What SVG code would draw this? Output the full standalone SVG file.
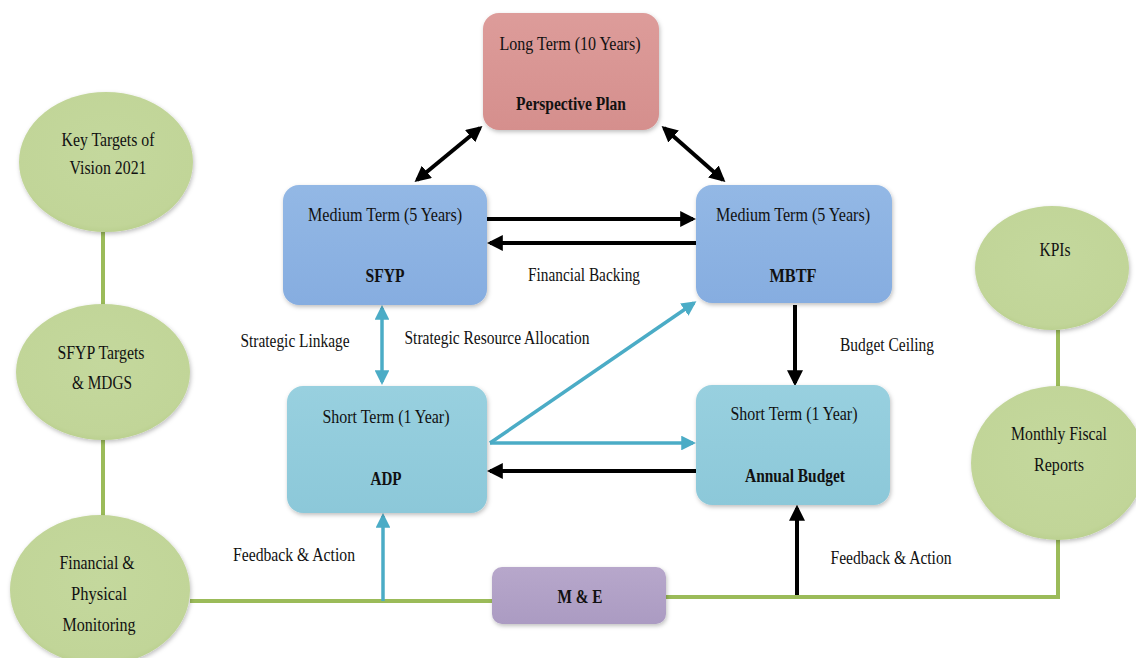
<svg xmlns="http://www.w3.org/2000/svg" width="1136" height="658" viewBox="0 0 1136 658">
<defs>
<style>
text{font-family:"Liberation Serif","Times New Roman",serif;font-size:19px;fill:#111;text-anchor:middle}
.b{font-weight:bold}
.box{stroke:none}
.pink{fill:url(#gPink)}
.blue{fill:url(#gBlue)}
.cyan{fill:url(#gCyan)}
.purple{fill:url(#gPurple)}
.ell{fill:url(#gGreen)}
.gl{stroke:#9bbb59;stroke-width:4;fill:none}
.k{stroke:#000;stroke-width:4;fill:none}
.c{stroke:#4bacc6;stroke-width:3.5;fill:none}
</style>
<linearGradient id="gPink" x1="0" y1="0" x2="0" y2="1"><stop offset="0" stop-color="#dd9c9a"/><stop offset="1" stop-color="#d58f8d"/></linearGradient>
<linearGradient id="gBlue" x1="0" y1="0" x2="0" y2="1"><stop offset="0" stop-color="#93b8e5"/><stop offset="1" stop-color="#86ade0"/></linearGradient>
<linearGradient id="gCyan" x1="0" y1="0" x2="0" y2="1"><stop offset="0" stop-color="#98d0df"/><stop offset="1" stop-color="#8cc8d9"/></linearGradient>
<linearGradient id="gPurple" x1="0" y1="0" x2="0" y2="1"><stop offset="0" stop-color="#b7a7cb"/><stop offset="1" stop-color="#ab9bc2"/></linearGradient>
<radialGradient id="gGreen" cx="0.5" cy="0.45" r="0.6"><stop offset="0" stop-color="#c4d89d"/><stop offset="0.85" stop-color="#c1d598"/><stop offset="1" stop-color="#b3ca86"/></radialGradient>
<filter id="sh" x="-10%" y="-10%" width="120%" height="130%"><feDropShadow dx="1" dy="2" stdDeviation="2" flood-color="#000" flood-opacity="0.25"/></filter>
<marker id="ak" viewBox="0 0 10 10" refX="8" refY="5" markerWidth="4" markerHeight="4" orient="auto-start-reverse"><path d="M0,0 L10,5 L0,10 Z" fill="#000"/></marker>
<marker id="ac" viewBox="0 0 10 10" refX="8" refY="5" markerWidth="4.2" markerHeight="4.2" orient="auto-start-reverse"><path d="M0,0 L10,5 L0,10 Z" fill="#4bacc6"/></marker>
</defs>
<rect width="1136" height="658" fill="#fff"/>

<g id="connectors">
<line class="gl" x1="103" y1="232" x2="103" y2="305"/>
<line class="gl" x1="103" y1="440" x2="103" y2="516"/>
<line class="gl" x1="1058" y1="330" x2="1058" y2="390"/>
<polyline class="gl" points="190,601 492,601"/>
<polyline class="gl" points="666,597 1058,597 1058,538"/>
<line class="k" x1="480" y1="128" x2="417" y2="180" marker-start="url(#ak)" marker-end="url(#ak)"/>
<line class="k" x1="664" y1="128" x2="723" y2="180" marker-start="url(#ak)" marker-end="url(#ak)"/>
<line class="k" x1="487" y1="219" x2="693" y2="219" marker-end="url(#ak)"/>
<line class="k" x1="696" y1="243" x2="490" y2="243" marker-end="url(#ak)"/>
<line class="k" x1="795" y1="305" x2="795" y2="383" marker-end="url(#ak)"/>
<line class="k" x1="696" y1="471" x2="490" y2="471" marker-end="url(#ak)"/>
<line class="c" x1="382" y1="308" x2="382" y2="382" marker-start="url(#ac)" marker-end="url(#ac)"/>
<line class="c" x1="490" y1="443" x2="693" y2="443" marker-end="url(#ac)"/>
<line class="c" x1="490" y1="443" x2="694" y2="303" marker-end="url(#ac)"/>
<line class="c" x1="383" y1="601" x2="383" y2="516" marker-end="url(#ac)"/>
<line class="k" x1="797" y1="595" x2="797" y2="508" marker-end="url(#ak)"/>
<rect x="512" y="258" width="140" height="26" fill="#fff"/>
<text x="584" y="281" textLength="112" lengthAdjust="spacingAndGlyphs">Financial Backing</text>
<text x="295" y="347" textLength="109" lengthAdjust="spacingAndGlyphs">Strategic Linkage</text>
<text x="497" y="344" textLength="185" lengthAdjust="spacingAndGlyphs">Strategic Resource Allocation</text>
<text x="887" y="351" textLength="94" lengthAdjust="spacingAndGlyphs">Budget Ceiling</text>
<text x="294" y="561" textLength="122" lengthAdjust="spacingAndGlyphs">Feedback &amp; Action</text>
<text x="891" y="564" textLength="121" lengthAdjust="spacingAndGlyphs">Feedback &amp; Action</text>
</g>

<g id="perspective">
<rect class="box pink" x="483" y="13" width="176" height="117" rx="16" filter="url(#sh)"/>
<text x="570" y="50" textLength="141" lengthAdjust="spacingAndGlyphs">Long Term (10 Years)</text>
<text class="b" x="571" y="110" textLength="110" lengthAdjust="spacingAndGlyphs">Perspective Plan</text>
</g>
<g id="sfyp">
<rect class="box blue" x="283" y="185" width="204" height="120" rx="16" filter="url(#sh)"/>
<text x="385" y="221" textLength="154" lengthAdjust="spacingAndGlyphs">Medium Term (5 Years)</text>
<text class="b" x="385" y="282" textLength="39" lengthAdjust="spacingAndGlyphs">SFYP</text>
</g>
<g id="mbtf">
<rect class="box blue" x="696" y="185" width="196" height="118" rx="16" filter="url(#sh)"/>
<text x="793" y="221" textLength="154" lengthAdjust="spacingAndGlyphs">Medium Term (5 Years)</text>
<text class="b" x="793" y="282" textLength="47" lengthAdjust="spacingAndGlyphs">MBTF</text>
</g>
<g id="adp">
<rect class="box cyan" x="287" y="386" width="200" height="127" rx="16" filter="url(#sh)"/>
<text x="386" y="423" textLength="127" lengthAdjust="spacingAndGlyphs">Short Term (1 Year)</text>
<text class="b" x="386" y="485" textLength="31" lengthAdjust="spacingAndGlyphs">ADP</text>
</g>
<g id="annual">
<rect class="box cyan" x="696" y="385" width="194" height="120" rx="16" filter="url(#sh)"/>
<text x="794" y="420" textLength="127" lengthAdjust="spacingAndGlyphs">Short Term (1 Year)</text>
<text class="b" x="795" y="482" textLength="100" lengthAdjust="spacingAndGlyphs">Annual Budget</text>
</g>
<g id="me">
<rect class="box purple" x="492" y="567" width="174" height="57" rx="10" filter="url(#sh)"/>
<text class="b" x="580" y="603" textLength="45" lengthAdjust="spacingAndGlyphs">M &amp; E</text>
</g>
<g id="vision">
<ellipse class="ell" cx="106" cy="162" rx="87" ry="70" filter="url(#sh)"/>
<text x="108" y="146" textLength="93" lengthAdjust="spacingAndGlyphs">Key Targets of</text>
<text x="108" y="174" textLength="77" lengthAdjust="spacingAndGlyphs">Vision 2021</text>
</g>
<g id="sfyp-targets">
<ellipse class="ell" cx="103" cy="372" rx="87" ry="68" filter="url(#sh)"/>
<text x="101" y="359" textLength="87" lengthAdjust="spacingAndGlyphs">SFYP Targets</text>
<text x="102" y="389" textLength="60" lengthAdjust="spacingAndGlyphs">&amp; MDGS</text>
</g>
<g id="monitoring">
<ellipse class="ell" cx="100" cy="590" rx="90" ry="75" filter="url(#sh)"/>
<text x="97" y="569" textLength="75" lengthAdjust="spacingAndGlyphs">Financial &amp;</text>
<text x="99" y="600" textLength="56" lengthAdjust="spacingAndGlyphs">Physical</text>
<text x="99" y="631" textLength="73" lengthAdjust="spacingAndGlyphs">Monitoring</text>
</g>
<g id="kpis">
<ellipse class="ell" cx="1052" cy="268" rx="77" ry="62" filter="url(#sh)"/>
<text x="1055" y="256" textLength="31" lengthAdjust="spacingAndGlyphs">KPIs</text>
</g>
<g id="fiscal">
<ellipse class="ell" cx="1058" cy="463" rx="87" ry="77" filter="url(#sh)"/>
<text x="1059" y="440" textLength="96" lengthAdjust="spacingAndGlyphs">Monthly Fiscal</text>
<text x="1059" y="471" textLength="50" lengthAdjust="spacingAndGlyphs">Reports</text>
</g>
</svg>
